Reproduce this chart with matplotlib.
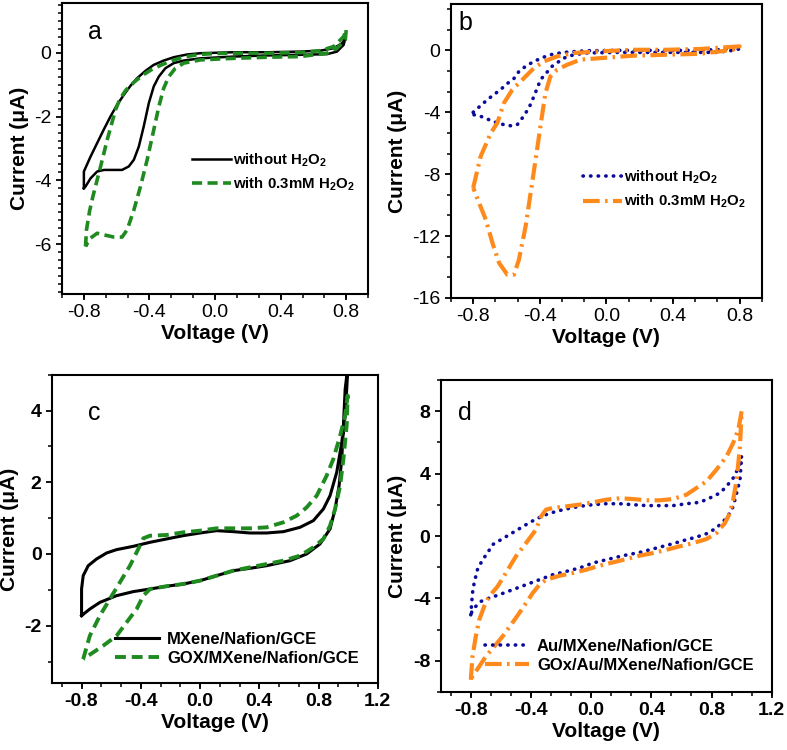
import matplotlib
matplotlib.use("Agg")
import matplotlib.pyplot as plt
import numpy as np

plt.rcParams['font.family'] = ['Liberation Sans', 'DejaVu Sans']
plt.rcParams['mathtext.fontset'] = 'custom'
plt.rcParams['mathtext.rm'] = 'Liberation Sans:bold'
plt.rcParams['mathtext.bf'] = 'Liberation Sans:bold'
plt.rcParams['mathtext.it'] = 'Liberation Sans:bold'

# ---------------- Panel a ----------------
a_black_x = [-0.8, -0.8, -0.8, -0.759, -0.719, -0.678, -0.638, -0.597, -0.556, -0.516, -0.475, -0.424, -0.374,
             -0.313, -0.252, -0.171, -0.089, 0.114, 0.317, 0.52, 0.642, 0.723, 0.774, 0.794,
             0.784, 0.743, 0.682, 0.52, 0.317, 0.114, -0.089, -0.191, -0.252, -0.303, -0.343, -0.374, -0.404, -0.435,
             -0.465, -0.495, -0.526, -0.567, -0.617, -0.678, -0.719, -0.759, -0.79, -0.8]
a_black_y = [-4.24, -3.98, -3.72, -3.25, -2.83, -2.4, -2.0, -1.63, -1.32, -1.04, -0.80, -0.57, -0.385,
             -0.25, -0.146, -0.06, -0.02, 0.01, 0.01, 0.03, 0.06, 0.135, 0.29, 0.45,
             0.24, 0.03, -0.05, -0.07, -0.09, -0.125, -0.18, -0.25, -0.33, -0.49, -0.75, -1.06, -1.58, -2.31,
             -2.94, -3.35, -3.56, -3.67, -3.67, -3.67, -3.72, -3.93, -4.19, -4.24]
a_green_x = [-0.79, -0.784, -0.765, -0.745, -0.72, -0.698, -0.678, -0.658, -0.632, -0.607, -0.58, -0.545,
             -0.495, -0.445, -0.39, -0.333, -0.272, -0.2, -0.1, 0.0, 0.114, 0.317, 0.52, 0.642, 0.723, 0.784, 0.8,
             0.794, 0.743, 0.682, 0.52, 0.317, 0.114, -0.089, -0.191, -0.242, -0.282, -0.313, -0.343, -0.374,
             -0.414, -0.455, -0.495, -0.536, -0.567, -0.617, -0.678, -0.719, -0.759, -0.79]
a_green_y = [-6.06, -5.54, -4.95, -4.5, -4.0, -3.56, -3.15, -2.73, -2.25, -1.79, -1.45, -1.18,
             -0.93, -0.72, -0.54, -0.40, -0.27, -0.15, -0.06, -0.03, -0.02, -0.02, 0.0, 0.06, 0.19, 0.5, 0.73,
             0.40, 0.135, -0.02, -0.125, -0.146, -0.18, -0.23, -0.33, -0.49, -0.75, -1.11, -1.69, -2.42,
             -3.35, -4.19, -4.92, -5.54, -5.77, -5.77, -5.70, -5.65, -5.80, -6.06]

# ---------------- Panel b ----------------
b_blue_x = [-0.8, -0.755, -0.715, -0.676, -0.636, -0.596, -0.556, -0.525, -0.485, -0.435, -0.375, -0.316, -0.236,
            -0.117, 0.063, 0.262, 0.461, 0.66, 0.8,
            0.76, 0.66, 0.461, 0.262, 0.063, -0.117, -0.196, -0.256, -0.326, -0.395, -0.435, -0.465, -0.505,
            -0.535, -0.575, -0.615, -0.655, -0.705, -0.755, -0.795, -0.8]
b_blue_y = [-4.0, -3.57, -3.19, -2.86, -2.54, -2.15, -1.83, -1.36, -1.03, -0.71, -0.43, -0.22, -0.11,
            -0.02, 0.0, 0.0, 0.0, 0.04, 0.1,
            0.0, -0.13, -0.13, -0.13, -0.13, -0.17, -0.28, -0.50, -1.03, -1.89, -2.97, -3.72, -4.37,
            -4.80, -4.87, -4.80, -4.69, -4.48, -4.26, -4.16, -4.0]
b_orange_x = [-0.8, -0.755, -0.694, -0.655, -0.615, -0.565, -0.495, -0.435, -0.375, -0.296, -0.196, -0.037,
              0.162, 0.362, 0.561, 0.8,
              0.76, 0.561, 0.362, 0.162, -0.037, -0.156, -0.236, -0.296, -0.336, -0.366, -0.396, -0.425,
              -0.455, -0.485, -0.525, -0.555, -0.595, -0.644, -0.684, -0.724, -0.764, -0.795, -0.8]
b_orange_y = [-8.89, -6.85, -5.34, -4.69, -3.40, -2.54, -1.79, -1.14, -0.71, -0.39, -0.17, -0.06,
              0.04, 0.04, 0.09, 0.26,
              0.04, -0.22, -0.28, -0.34, -0.50, -0.60, -0.93, -1.25, -1.68, -2.76, -4.91, -7.06,
              -9.22, -11.37, -13.52, -14.49, -14.49, -13.74, -12.45, -10.94, -9.86, -9.0, -8.89]

# ---------------- Panel c ----------------
c_black_x = [-0.8, -0.8, -0.789, -0.755, -0.699, -0.631, -0.564, -0.451, -0.338, -0.226, -0.113, 0.0, 0.112,
             0.225, 0.337, 0.45, 0.563, 0.675, 0.765, 0.833, 0.878, 0.923, 0.957, 0.98, 1.0,
             0.98, 0.968, 0.957, 0.939, 0.912, 0.878, 0.81, 0.72, 0.608, 0.45, 0.337, 0.225, 0.112, 0.0,
             -0.113, -0.226, -0.338, -0.451, -0.564, -0.676, -0.744, -0.8]
c_black_y = [-1.72, -0.977, -0.605, -0.326, -0.14, 0.028, 0.121, 0.214, 0.326, 0.419, 0.512, 0.586, 0.651,
             0.623, 0.586, 0.586, 0.623, 0.744, 0.93, 1.256, 1.628, 2.28, 3.116, 3.86, 5.3,
             4.6, 3.58, 2.65, 1.91, 1.256, 0.70, 0.28, 0.0, -0.186, -0.326, -0.40, -0.465, -0.605, -0.744,
             -0.837, -0.90, -0.977, -1.05, -1.163, -1.35, -1.535, -1.72]
c_green_x = [-0.789, -0.744, -0.676, -0.609, -0.541, -0.473, -0.417, -0.383, -0.338, -0.226, -0.113, 0.0, 0.112,
             0.225, 0.337, 0.45, 0.563, 0.653, 0.72, 0.788, 0.855, 0.9, 0.946, 0.98, 0.997,
             0.99, 0.968, 0.946, 0.912, 0.878, 0.833, 0.765, 0.675, 0.563, 0.45, 0.337, 0.225, 0.112, 0.0,
             -0.113, -0.226, -0.338, -0.383, -0.428, -0.496, -0.563, -0.654, -0.721, -0.789]
c_green_y = [-2.93, -2.28, -1.72, -1.256, -0.79, -0.326, 0.14, 0.437, 0.51, 0.53, 0.605, 0.65, 0.716,
             0.716, 0.716, 0.744, 0.884, 1.07, 1.30, 1.628, 2.186, 2.65, 3.30, 3.86, 4.42,
             3.58, 2.65, 1.91, 1.256, 0.79, 0.42, 0.186, -0.047, -0.186, -0.28, -0.372, -0.465, -0.605, -0.744,
             -0.837, -0.90, -0.977, -1.163, -1.535, -1.907, -2.28, -2.56, -2.744, -2.93]

# ---------------- Panel d ----------------
d_blue_x = [-0.8, -0.789, -0.778, -0.756, -0.722, -0.689, -0.656, -0.6, -0.544, -0.489, -0.433, -0.367, -0.3,
            -0.233, -0.167, -0.078, 0.011, 0.1, 0.189, 0.278, 0.367, 0.456, 0.544, 0.633, 0.722, 0.789, 0.856,
            0.9, 0.944, 0.978, 1.0,
            0.989, 0.967, 0.944, 0.922, 0.889, 0.833, 0.767, 0.7, 0.633, 0.544, 0.433, 0.322, 0.211, 0.1,
            0.011, -0.078, -0.167, -0.256, -0.344, -0.433, -0.522, -0.611, -0.678, -0.733, -0.767, -0.789, -0.8]
d_blue_y = [-5.05, -3.66, -3.02, -2.16, -1.52, -1.09, -0.556, -0.235, 0.086, 0.406, 0.727, 1.09, 1.37,
            1.58, 1.73, 1.90, 2.01, 2.07, 2.07, 2.01, 1.95, 1.95, 1.95, 2.07, 2.16, 2.44, 2.76,
            3.19, 3.72, 4.36, 5.11,
            3.61, 2.76, 1.90, 1.48, 1.05, 0.513, 0.15, -0.064, -0.235, -0.49, -0.77, -1.05, -1.26, -1.52,
            -1.73, -2.05, -2.27, -2.48, -2.80, -3.12, -3.44, -3.76, -3.98, -4.19, -4.51, -4.73, -5.05]
d_orange_x = [-0.8, -0.789, -0.767, -0.744, -0.711, -0.678, -0.622, -0.567, -0.5, -0.433, -0.367, -0.333, -0.3,
              -0.256, -0.167, -0.078, 0.011, 0.1, 0.189, 0.278, 0.367, 0.456, 0.544, 0.633, 0.7, 0.767,
              0.833, 0.9, 0.944, 0.978, 1.0,
              0.989, 0.967, 0.944, 0.922, 0.889, 0.833, 0.767, 0.678, 0.589, 0.5, 0.411, 0.322, 0.233,
              0.144, 0.056, -0.033, -0.122, -0.211, -0.3, -0.344, -0.389, -0.433, -0.478, -0.533, -0.589,
              -0.644, -0.7, -0.744, -0.789, -0.8]
d_orange_y = [-9.22, -7.72, -6.44, -5.37, -4.51, -3.87, -3.23, -2.37, -1.30, -0.45, 0.406, 1.26, 1.69,
              1.80, 1.90, 2.01, 2.16, 2.33, 2.42, 2.37, 2.29, 2.29, 2.37, 2.65, 3.08, 3.51,
              4.26, 5.11, 5.97, 6.82, 8.0,
              5.75, 3.61, 2.33, 1.48, 0.834, 0.19, -0.19, -0.45, -0.66, -0.88, -1.09, -1.26, -1.48,
              -1.69, -1.90, -2.16, -2.37, -2.55, -2.80, -3.12, -3.66, -4.30, -4.94, -5.69, -6.44,
              -7.08, -7.72, -8.36, -9.0, -9.22]

xticks_ab = [-0.8, -0.4, 0.0, 0.4, 0.8]
xtick_labels_ab = ['-0.8', '-0.4', '0.0', '0.4', '0.8']
xticks_cd = [-0.8, -0.4, 0.0, 0.4, 0.8, 1.2]
xtick_labels_cd = ['-0.8', '-0.4', '0.0', '0.4', '0.8', '1.2']
yticks_a = [-6, -4, -2, 0]
yticks_b = [-16, -12, -8, -4, 0]
yticks_c = [-2, 0, 2, 4]
yticks_d = [-8, -4, 0, 4, 8]

legend_a = ['without H$_2$O$_2$', 'with 0.3mM H$_2$O$_2$']
legend_c = ['MXene/Nafion/GCE', 'GOX/MXene/Nafion/GCE']
legend_d = ['Au/MXene/Nafion/GCE', 'GOx/Au/MXene/Nafion/GCE']

BLACK = '#000000'
GREEN = '#1f8a1f'
BLUE = '#0b0b9c'
ORANGE = '#ff8a1c'

fig = plt.figure(figsize=(7.87, 7.5), dpi=100)

ax_a = fig.add_axes([0.0788, 0.608, 0.389, 0.388])
ax_b = fig.add_axes([0.573, 0.6027, 0.395, 0.392])
ax_c = fig.add_axes([0.066, 0.0893, 0.414, 0.411])
ax_d = fig.add_axes([0.560, 0.0773, 0.4206, 0.416])


def style(ax, xlim, ylim, xticks, xlabels, xminor, yticks, yminor, bold_ticks):
    ax.set_xlim(*xlim)
    ax.set_ylim(*ylim)
    ax.set_xticks(xticks)
    ax.set_xticklabels(xlabels)
    ax.set_xticks(xminor, minor=True)
    ax.set_yticks(yticks)
    ax.set_yticklabels([str(v) for v in yticks])
    ax.set_yticks(yminor, minor=True)
    for s in ax.spines.values():
        s.set_linewidth(1.5)
    ax.tick_params(which='major', direction='out', length=4.5, width=1.3, labelsize=14, pad=3)
    ax.tick_params(which='minor', direction='out', length=2.8, width=1.1)
    for lab in ax.get_xticklabels() + ax.get_yticklabels():
        lab.set_fontweight('bold' if bold_ticks else 'normal')
    ax.set_xlabel('Voltage (V)', fontsize=15, fontweight='bold', labelpad=2)
    ax.set_ylabel('Current (μA)', fontsize=15, fontweight='bold', labelpad=4)


minor_ab = np.arange(-0.9333, 0.94, 0.4 / 3)
minor_cd = np.arange(-0.9333, 1.21, 0.4 / 3)

# a
ax_a.plot(a_black_x, a_black_y, color=BLACK, lw=1.8, label=legend_a[0])
ax_a.plot(a_green_x, a_green_y, color=GREEN, lw=2.6, ls=(0, (2.8, 1.5)), label=legend_a[1])
style(ax_a, (-0.9333, 0.9333), (-7.55, 1.55), xticks_ab, xtick_labels_ab, minor_ab,
      yticks_a, np.arange(-7.5, 1.6, 0.25), False)
ax_a.text(0.108, 0.90, 'a', transform=ax_a.transAxes, fontsize=18, ha='center', va='center')
ax_a.legend(loc='upper left', bbox_to_anchor=(0.425, 0.49), frameon=False, prop={'size': 10.8, 'weight': 'bold'},
            handlelength=2.6, handletextpad=0.15, borderpad=0, borderaxespad=0, labelspacing=0.45)

# b
ax_b.plot(b_blue_x, b_blue_y, color=BLUE, lw=2.6, ls=(0, (0.1, 2.0)), dash_capstyle='round',
          label=legend_a[0])
ax_b.plot(b_orange_x, b_orange_y, color=ORANGE, lw=3.0, ls=(0, (4.0, 1.3, 0.6, 1.3)),
          label=legend_a[1])
style(ax_b, (-0.9333, 0.9333), (-16, 3.0), xticks_ab, xtick_labels_ab, minor_ab,
      yticks_b, np.arange(-16, 3.1, 4 / 3), False)
ax_b.text(0.048, 0.935, 'b', transform=ax_b.transAxes, fontsize=18, ha='center', va='center')
ax_b.legend(loc='upper left', bbox_to_anchor=(0.425, 0.44), frameon=False, prop={'size': 10.8, 'weight': 'bold'},
            handlelength=2.6, handletextpad=0.15, borderpad=0, borderaxespad=0, labelspacing=0.45)

# c
ax_c.plot(c_black_x, c_black_y, color=BLACK, lw=2.2, label=legend_c[0])
ax_c.plot(c_green_x, c_green_y, color=GREEN, lw=2.8, ls=(0, (2.8, 1.5)), label=legend_c[1])
style(ax_c, (-1.0, 1.2), (-3.6, 5.0), xticks_cd, xtick_labels_cd, minor_cd,
      yticks_c, np.arange(-3, 5.1, 1), True)
ax_c.text(0.129, 0.877, 'c', transform=ax_c.transAxes, fontsize=18, ha='center', va='center')
ax_c.legend(loc='upper left', bbox_to_anchor=(0.195, 0.165), frameon=False, prop={'size': 12, 'weight': 'bold'},
            handlelength=2.6, handletextpad=0.5, borderpad=0, borderaxespad=0, labelspacing=0.25)

# d
ax_d.plot(d_blue_x, d_blue_y, color=BLUE, lw=2.6, ls=(0, (0.1, 2.0)), dash_capstyle='round',
          label=legend_d[0])
ax_d.plot(d_orange_x, d_orange_y, color=ORANGE, lw=3.0, ls=(0, (4.0, 1.3, 0.6, 1.3)),
          label=legend_d[1])
style(ax_d, (-1.0, 1.2), (-10, 10), xticks_cd, xtick_labels_cd, minor_cd,
      yticks_d, np.arange(-10, 10.1, 2), True)
ax_d.text(0.073, 0.894, 'd', transform=ax_d.transAxes, fontsize=18, ha='center', va='center')
ax_d.legend(loc='upper left', bbox_to_anchor=(0.135, 0.17), frameon=False, prop={'size': 12, 'weight': 'bold'},
            handlelength=2.6, handletextpad=0.5, borderpad=0, borderaxespad=0, labelspacing=0.25)

fig.savefig('out.png', dpi=100)
